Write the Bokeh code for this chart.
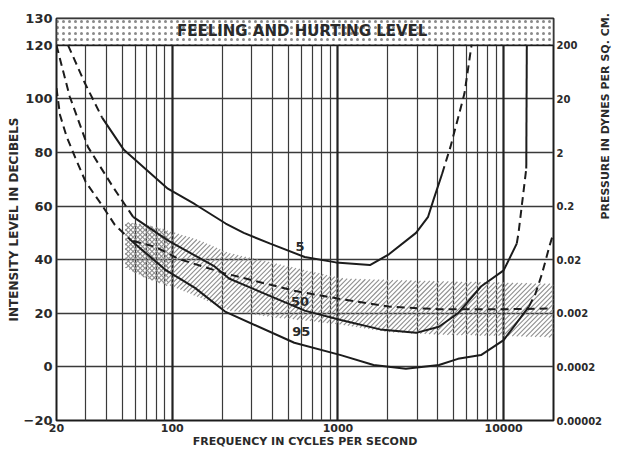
import math
from bokeh.plotting import figure
from bokeh.models import FixedTicker, LinearAxis, Grid
from bokeh.core.properties import value
from bokeh.embed import file_html
from bokeh.resources import INLINE

# ---------------- data ----------------
x_ticks = [20, 100, 1000, 10000]
x_tick_labels = ["20", "100", "1000", "10000"]
y_ticks = [-20, 0, 20, 40, 60, 80, 100, 120, 130]
p_ticks = [-20, 0, 20, 40, 60, 80, 100, 120]
p_labels = ["0.00002", "0.0002", "0.002", "0.02", "0.2", "2", "20", "200"]
grid_freqs = [30, 40, 50, 60, 70, 80, 90, 200, 300, 400, 500, 600, 700, 800, 900,
              2000, 3000, 4000, 5000, 6000, 7000, 8000, 9000]
decade_freqs = [100, 1000, 10000]
grid_db = [0, 20, 40, 60, 80, 100, 120]

feel_band = [120, 130]

# curve "5"
c5_dash_l_f = [23.5, 29.6, 37.7]
c5_dash_l_db = [120, 106, 93]
c5_f = [37.7, 51, 94, 137, 210, 270, 390, 630, 970, 1560, 2030, 2960, 3500, 3780, 4250]
c5_db = [93, 81, 66.5, 60.7, 53.5, 50, 46, 41, 39, 38, 42, 50, 56, 62.5, 72]
c5_dash_r_f = [4250, 4770, 5300, 5800, 6400]
c5_dash_r_db = [72, 82, 92.7, 102, 120]

# curve "50"
c50_dash_l_f = [20, 24, 31, 44, 58]
c50_dash_l_db = [120, 101, 82, 67, 56]
c50_f = [58, 95, 180, 220, 340, 630, 1040, 1800, 2960, 4070, 5300, 7300, 10000, 12000]
c50_db = [56, 47, 37.5, 33, 28, 21, 17.5, 14, 12.7, 15, 20, 30, 36, 46]
c50_dash_r_f = [12000, 12300, 13700]
c50_dash_r_db = [46, 50, 74]
c50_top_f = [13700, 13800]
c50_top_db = [74, 120]

# curve "95"
c95_dash_l_f = [20, 21, 23, 26, 30, 37, 45, 58]
c95_dash_l_db = [104, 94, 86, 78, 69, 61, 53, 46.5]
c95_f = [58, 92, 137, 210, 545, 1040, 1640, 2570, 4070, 5300, 7300, 10000, 14200]
c95_db = [46.5, 36, 29.5, 20.5, 9, 4.4, 0.7, -0.7, 0.7, 3, 4.4, 10, 22.5]
c95_dash_r_f = [14200, 15500, 17000, 19000, 20000]
c95_dash_r_db = [22.5, 27, 34.5, 45.5, 50]

# long dashed reference threshold
thr_f = [58, 80, 108, 205, 545, 1040, 2030, 4070, 10000, 20000]
thr_db = [47, 44.7, 40.4, 35, 28.4, 25.3, 22.5, 21.5, 21.5, 21.8]

# shaded (hatched) band
band_f = [52, 70, 100, 150, 220, 400, 700, 1100, 2000, 4000, 10000, 20000]
band_top = [54, 53, 50.5, 47, 42.5, 39, 35.5, 33, 32.5, 32, 31.5, 31]
band_bot = [37, 33, 30, 25.5, 21, 18.5, 17, 15.5, 13, 12, 11.5, 11]
cross_f = [52, 70, 95]
cross_top = [54, 53, 51]
cross_bot = [37, 33, 30]

# ---------------- styling / geometry ----------------
INK = "#1c1c1c"
TXT = "#2a2a2a"
FONT = value("DejaVu Sans")
FRAME_W, FRAME_H = 505, 404
X_LO, X_HI, Y_LO, Y_HI = 20, 20000, -20, 130
XPD = FRAME_W / math.log10(X_HI / X_LO)   # px per decade (hatch geometry only)
YPD = FRAME_H / (Y_HI - Y_LO)             # px per dB (hatch geometry only)


def hatch_lines(fs, tops, bots, spacing, slope):
    """Diagonal hatch segments (in data units) clipped to the band between bots and tops."""
    X = [XPD * math.log10(f / X_LO) for f in fs]
    T = [YPD * t for t in tops]
    B = [YPD * b for b in bots]

    def lin(xq, ys):
        for i in range(len(X) - 1):
            if X[i] <= xq <= X[i + 1]:
                r = (xq - X[i]) / (X[i + 1] - X[i])
                return ys[i] + r * (ys[i + 1] - ys[i])
        return ys[-1]

    step = 0.25
    n = int((X[-1] - X[0]) / step) + 1
    samples = [X[0] + k * step for k in range(n)] + [X[-1]]
    cs = [slope * -x for x in (X[0], X[-1])]
    cmin = min(B) + min(cs) - spacing
    cmax = max(T) + max(cs) + spacing
    xs_out, ys_out = [], []
    c = cmin

    def emit(run):
        xs_out.append([X_LO * 10 ** (run[0] / XPD), X_LO * 10 ** (run[1] / XPD)])
        ys_out.append([(slope * run[0] + c) / YPD, (slope * run[1] + c) / YPD])

    while c <= cmax:
        run = None
        for xq in samples:
            yq = slope * xq + c
            ok = lin(xq, B) <= yq <= lin(xq, T)
            if ok and run is None:
                run = [xq, xq]
            elif ok:
                run[1] = xq
            elif run is not None:
                emit(run)
                run = None
        if run is not None and run[1] > run[0]:
            emit(run)
        c += spacing
    return xs_out, ys_out


# ---------------- figure ----------------
p = figure(width=621, height=450, x_axis_type="log", x_range=(X_LO, X_HI), y_range=(Y_LO, Y_HI),
           output_backend="svg", toolbar_location=None,
           min_border_left=56, min_border_right=53, min_border_top=18, min_border_bottom=22)
p.background_fill_color = "white"
p.border_fill_color = "white"
p.outline_line_color = INK
p.outline_line_width = 2

# grids
p.xgrid.ticker = FixedTicker(ticks=grid_freqs)
p.xgrid.grid_line_color = "#3a3a3a"
p.xgrid.grid_line_width = 1.2
p.ygrid.ticker = FixedTicker(ticks=grid_db)
p.ygrid.grid_line_color = "#3a3a3a"
p.ygrid.grid_line_width = 1.4
g = Grid(dimension=0, ticker=FixedTicker(ticks=decade_freqs), grid_line_color="#222222", grid_line_width=2.2)
p.add_layout(g)


# axes
def style_axis(ax, size="13px", title_size="12px"):
    ax.major_tick_line_color = None
    ax.minor_tick_line_color = None
    ax.major_tick_out = 0
    ax.major_tick_in = 0
    ax.minor_tick_out = 0
    ax.minor_tick_in = 0
    ax.axis_line_color = None
    ax.major_label_text_font = "DejaVu Sans"
    ax.major_label_text_font_style = "bold"
    ax.major_label_text_font_size = size
    ax.major_label_text_color = TXT
    ax.axis_label_text_font = "DejaVu Sans"
    ax.axis_label_text_font_style = "bold"
    ax.axis_label_text_font_size = title_size
    ax.axis_label_text_color = TXT


p.xaxis.ticker = FixedTicker(ticks=x_ticks)
p.xaxis.major_label_overrides = dict(zip(x_ticks, x_tick_labels))
style_axis(p.xaxis[0], "11px", "11px")
p.xaxis.major_label_standoff = 3
p.xaxis.axis_label = "FREQUENCY IN CYCLES PER SECOND"
p.xaxis.axis_label_standoff = 0

p.yaxis.ticker = FixedTicker(ticks=y_ticks)
style_axis(p.yaxis[0], "13px", "12px")
p.yaxis.major_label_standoff = 4
p.yaxis.axis_label = "INTENSITY LEVEL IN DECIBELS"
p.yaxis.axis_label_standoff = 0

rax = LinearAxis(ticker=FixedTicker(ticks=p_ticks), major_label_overrides=dict(zip(p_ticks, p_labels)))
style_axis(rax, "10px", "11px")
rax.major_label_standoff = 3
rax.axis_label = "PRESSURE IN DYNES PER SQ. CM."
rax.axis_label_standoff = 0
if "axis_label_orientation" in rax.properties():
    rax.axis_label_orientation = math.pi / 2
p.add_layout(rax, "right")

# hatched band
hx, hy = hatch_lines(band_f, band_top, band_bot, 4.8, 1)
p.multi_line(hx, hy, line_color="#8e8e8e", line_width=1.1)
cx, cy = hatch_lines(cross_f, cross_top, cross_bot, 4.8, -1)
p.multi_line(cx, cy, line_color="#8e8e8e", line_width=1.1)

# feeling band
p.quad(left=[X_LO], right=[X_HI], bottom=[feel_band[0]], top=[feel_band[1]], fill_color="white",
       hatch_pattern=".", hatch_color="#8a8a8a", hatch_scale=6, line_color=INK, line_width=1.5)
p.text(x=[608], y=[125.4], text=["FEELING AND HURTING LEVEL"], text_align="center", text_baseline="middle",
       text_font=FONT, text_font_style="bold", text_font_size="15px", text_color=TXT)

# curves
SOL = dict(line_width=2, line_color=INK)
DSH = dict(line_width=2, line_color=INK, line_dash="8 5")
p.line(c5_dash_l_f, c5_dash_l_db, **DSH)
p.line(c5_f, c5_db, **SOL)
p.line(c5_dash_r_f, c5_dash_r_db, **DSH)
p.line(c50_dash_l_f, c50_dash_l_db, **DSH)
p.line(c50_f, c50_db, **SOL)
p.line(c50_dash_r_f, c50_dash_r_db, **DSH)
p.line(c50_top_f, c50_top_db, **SOL)
p.line(c95_dash_l_f, c95_dash_l_db, **DSH)
p.line(c95_f, c95_db, **SOL)
p.line(c95_dash_r_f, c95_dash_r_db, **DSH)
p.line(thr_f, thr_db, **DSH)

# curve labels
p.text(x=[590, 590, 600], y=[45.1, 24.3, 13.3], text=["5", "50", "95"], text_align="center",
       text_baseline="middle", text_font=FONT, text_font_style="bold", text_font_size="13px",
       text_color=TXT)

open("out.html", "w").write(file_html(p, INLINE))
